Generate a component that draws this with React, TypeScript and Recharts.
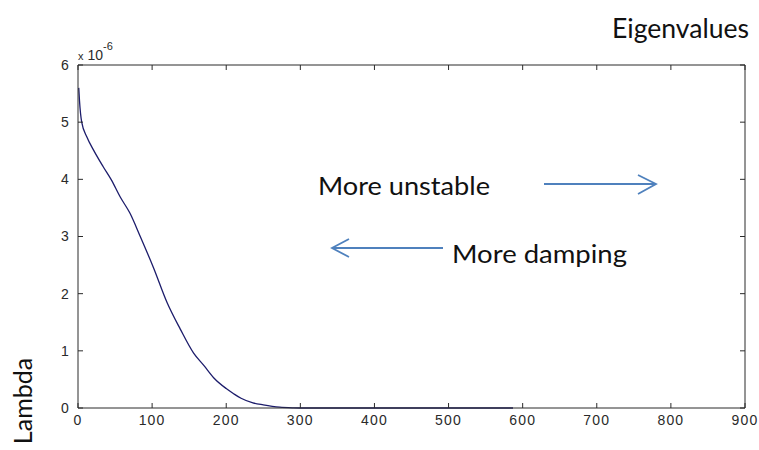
import React from "react";
import { LineChart, Line, XAxis, YAxis } from "recharts";

// lambda (x 1e-6) against eigenvalue index
const indexValues = [1, 2, 5, 12, 21, 34, 45, 57, 70, 84, 102, 120, 138, 156, 170, 183, 200, 210, 220, 236, 250, 272, 290, 300, 400, 500, 587];
const lambdaValues = [5.6, 5.38, 5.0, 4.74, 4.51, 4.22, 3.99, 3.69, 3.41, 3.0, 2.45, 1.85, 1.38, 0.96, 0.74, 0.53, 0.34, 0.25, 0.17, 0.09, 0.055, 0.015, 0.003, 0, 0, 0, 0];

const xTicks = [0, 100, 200, 300, 400, 500, 600, 700, 800, 900];
const yTicks = [0, 1, 2, 3, 4, 5, 6];

const data = indexValues.map((x, i) => ({ x, y: lambdaValues[i] }));

const axisColor = "#2b2b2b";
const tickStyle = {
  fill: "#2a2a2a",
  fontSize: 14,
  fontFamily: "Liberation Sans, Arial, sans-serif",
  letterSpacing: 1.2,
};
const noLabel = () => "";
const calibri = "Lato, 'Open Sans', sans-serif";
const arrowBlue = "#4f81bd";

export default function App() {
  return (
    <div style={{ position: "absolute", left: 0, top: 0, width: 759, height: 450, background: "#fff" }}>
      <LineChart
        width={759}
        height={450}
        data={data}
        margin={{ top: 64, right: 13, bottom: 12, left: 48 }}
      >
        <XAxis
          type="number"
          dataKey="x"
          domain={[0, 900]}
          ticks={xTicks}
          height={30}
          tickSize={-5}
          tickMargin={12}
          stroke={axisColor}
          tickLine={{ stroke: axisColor }}
          tick={tickStyle}
        />
        <XAxis
          xAxisId="top"
          orientation="top"
          type="number"
          dataKey="x"
          domain={[0, 900]}
          ticks={xTicks}
          height={1}
          tickSize={-5}
          tickFormatter={noLabel}
          stroke={axisColor}
        />
        <YAxis
          type="number"
          domain={[0, 6]}
          ticks={yTicks}
          width={30}
          tickSize={-5}
          tickMargin={13}
          stroke={axisColor}
          tick={tickStyle}
        />
        <YAxis
          yAxisId="right"
          orientation="right"
          type="number"
          domain={[0, 6]}
          ticks={yTicks}
          width={1}
          tickSize={-5}
          tickFormatter={noLabel}
          stroke={axisColor}
        />
        {/* invisible copy so the top/right frame axes have a series */}
        <Line
          xAxisId="top"
          yAxisId="right"
          dataKey="y"
          stroke="none"
          dot={false}
          isAnimationActive={false}
        />
        <Line
          type="monotone"
          dataKey="y"
          stroke="#1c1c6b"
          strokeWidth={1.3}
          dot={false}
          isAnimationActive={false}
        />
      </LineChart>

      <svg
        width={759}
        height={450}
        style={{ position: "absolute", left: 0, top: 0, pointerEvents: "none" }}
      >
        {/* exponent label */}
        <text x={78} y={60} fontFamily="Liberation Sans, Arial, sans-serif" fontSize={14} fill="#2a2a2a">
          <tspan fontSize={11}>x</tspan>
          <tspan dx={4}>10</tspan>
          <tspan dy={-10} fontSize={11}>-6</tspan>
        </text>

        <text x={612} y={38} textLength={137} lengthAdjust="spacingAndGlyphs" fontFamily={calibri} fontSize={26} fill="#111">
          Eigenvalues
        </text>

        <text
          transform="translate(32, 401) rotate(-90)"
          textAnchor="middle"
          fontFamily={calibri}
          fontSize={25}
          fill="#111"
        >
          Lambda
        </text>

        <text x={318} y={195} textLength={172} lengthAdjust="spacingAndGlyphs" fontFamily={calibri} fontSize={25} fill="#111">
          More unstable
        </text>
        <text x={452} y={263} textLength={175} lengthAdjust="spacingAndGlyphs" fontFamily={calibri} fontSize={25} fill="#111">
          More damping
        </text>

        {/* right arrow */}
        <g stroke={arrowBlue} strokeWidth={1.8} fill="none">
          <line x1={544} y1={184} x2={655} y2={184} />
          <polyline points="638,175 656,184 638,194" />
        </g>
        {/* left arrow */}
        <g stroke={arrowBlue} strokeWidth={1.8} fill="none">
          <line x1={333} y1={248} x2={443} y2={248} />
          <polyline points="349,239 332,248 349,257" />
        </g>
      </svg>
    </div>
  );
}
